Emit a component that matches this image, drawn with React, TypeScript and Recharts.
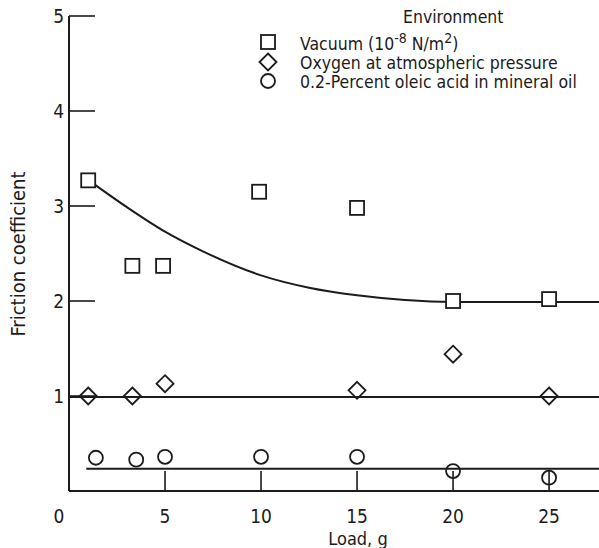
import { ComposedChart, Legend, Line, Scatter, XAxis, YAxis } from 'recharts'

// vacuum (10^-8 N/m^2)
const loadVacuum = [1, 3.3, 4.9, 9.9, 15, 20, 25]
const frictionVacuum = [3.27, 2.37, 2.37, 3.15, 2.98, 2.0, 2.02]
// oxygen at atmospheric pressure
const loadOxygen = [1, 3.3, 5, 15, 20, 25]
const frictionOxygen = [1.0, 1.0, 1.13, 1.06, 1.44, 1.0]
// 0.2-percent oleic acid in mineral oil
const loadOleic = [1.4, 3.5, 5, 10, 15, 20, 25]
const frictionOleic = [0.35, 0.33, 0.36, 0.36, 0.36, 0.21, 0.14]

// faired curves
const fitVacuumLoad = [1.1, 3, 5, 7, 10, 12.5, 15, 17.5, 20, 27.6]
const fitVacuumFriction = [3.26, 2.99, 2.73, 2.52, 2.27, 2.14, 2.06, 2.01, 1.99, 1.99]
const fitOxygenLoad = [0, 27.6]
const fitOxygenFriction = [0.99, 0.99]
const fitOleicLoad = [0.9, 27.6]
const fitOleicFriction = [0.235, 0.235]

const xTicks = [0, 5, 10, 15, 20, 25]
const yTicks = [1, 2, 3, 4, 5]

const pts = (xs: number[], ys: number[]) => xs.map((x, i) => ({ x, y: ys[i] }))

const INK = '#1b1b1b'
const FONT = "'DejaVu Sans Condensed', 'Liberation Sans Narrow', 'Liberation Sans', sans-serif"

const Square = ({ cx, cy }: any) => (
  <rect x={cx - 7} y={cy - 7} width={14} height={14} fill="#fff" stroke={INK} strokeWidth={1.8} />
)
const Diamond = ({ cx, cy }: any) => (
  <path
    d={`M${cx},${cy - 8.5}L${cx + 8.5},${cy}L${cx},${cy + 8.5}L${cx - 8.5},${cy}Z`}
    fill="none"
    stroke={INK}
    strokeWidth={1.8}
  />
)
const Circle = ({ cx, cy }: any) => <circle cx={cx} cy={cy} r={7} fill="none" stroke={INK} strokeWidth={1.8} />

const XTick = ({ x, y, payload }: any) => (
  <g>
    {payload.value !== 0 && <line x1={x} y1={y} x2={x} y2={y - 20} stroke={INK} strokeWidth={1.6} />}
    <text
      x={payload.value === 0 ? x - 10 : x}
      y={y + 25}
      textAnchor="middle"
      dominantBaseline="central"
      fontFamily={FONT}
      fontSize={19}
      fill={INK}
    >
      {payload.value}
    </text>
  </g>
)

const YTick = ({ x, y, payload }: any) => (
  <g>
    <line x1={x} y1={y} x2={x + 26} y2={y} stroke={INK} strokeWidth={1.6} />
    <text x={x - 5} y={y} textAnchor="end" dominantBaseline="central" fontFamily={FONT} fontSize={19} fill={INK}>
      {payload.value}
    </text>
  </g>
)

const LegendBox = () => (
  <svg width={349} height={95} style={{ display: 'block' }}>
    <g fontFamily={FONT} fontSize={17.5} fill={INK}>
      <text x={153} y={17} dominantBaseline="central">Environment</text>
      <Square cx={18} cy={42} />
      <text x={50} y={44} dominantBaseline="central">
        Vacuum (10
        <tspan dy={-6} fontSize={14}>-8</tspan>
        <tspan dy={6}> N/m</tspan>
        <tspan dy={-6} fontSize={14}>2</tspan>
        <tspan dy={6}>)</tspan>
      </text>
      <Diamond cx={18} cy={62} />
      <text x={50} y={63} dominantBaseline="central">Oxygen at atmospheric pressure</text>
      <Circle cx={18} cy={81} />
      <text x={50} y={82} dominantBaseline="central">0.2-Percent oleic acid in mineral oil</text>
    </g>
  </svg>
)

export default function App() {
  return (
    <div style={{ position: 'absolute', left: 0, top: 0, width: 599, height: 548, background: '#fff' }}>
      <ComposedChart width={599} height={548} margin={{ top: 16, right: 0, bottom: 0, left: 0 }}>
        <XAxis
          type="number"
          dataKey="x"
          domain={[0, 27.6]}
          ticks={xTicks}
          allowDataOverflow
          height={57}
          tick={XTick}
          tickLine={false}
          tickSize={0}
          tickMargin={0}
          axisLine={{ stroke: INK, strokeWidth: 2 }}
        />
        <YAxis
          type="number"
          dataKey="y"
          domain={[0, 5]}
          ticks={yTicks}
          width={69}
          tick={YTick}
          tickLine={false}
          tickSize={0}
          tickMargin={0}
          axisLine={{ stroke: INK, strokeWidth: 2 }}
        />
        <Legend
          layout="horizontal"
          verticalAlign="middle"
          align="center"
          content={LegendBox}
          wrapperStyle={{ left: 250, top: 0, width: 349, height: 95 }}
        />
        <Line data={pts(fitVacuumLoad, fitVacuumFriction)} dataKey="y" type="monotone" stroke={INK} strokeWidth={2} dot={false} isAnimationActive={false} />
        <Line data={pts(fitOxygenLoad, fitOxygenFriction)} dataKey="y" type="linear" stroke={INK} strokeWidth={2} dot={false} isAnimationActive={false} />
        <Line data={pts(fitOleicLoad, fitOleicFriction)} dataKey="y" type="linear" stroke={INK} strokeWidth={2} dot={false} isAnimationActive={false} />
        <Scatter data={pts(loadVacuum, frictionVacuum)} dataKey="y" shape={Square} isAnimationActive={false} />
        <Scatter data={pts(loadOxygen, frictionOxygen)} dataKey="y" shape={Diamond} isAnimationActive={false} />
        <Scatter data={pts(loadOleic, frictionOleic)} dataKey="y" shape={Circle} isAnimationActive={false} />
      </ComposedChart>
      <svg width={599} height={548} style={{ position: 'absolute', left: 0, top: 0, pointerEvents: 'none' }}>
        <g fontFamily={FONT} fill={INK}>
          <text x={18} y={254} transform="rotate(-90 18 254)" textAnchor="middle" dominantBaseline="central" fontSize={20}>
            Friction coefficient
          </text>
          <text x={358} y={538} textAnchor="middle" dominantBaseline="central" fontSize={18}>Load, g</text>
        </g>
      </svg>
    </div>
  )
}
